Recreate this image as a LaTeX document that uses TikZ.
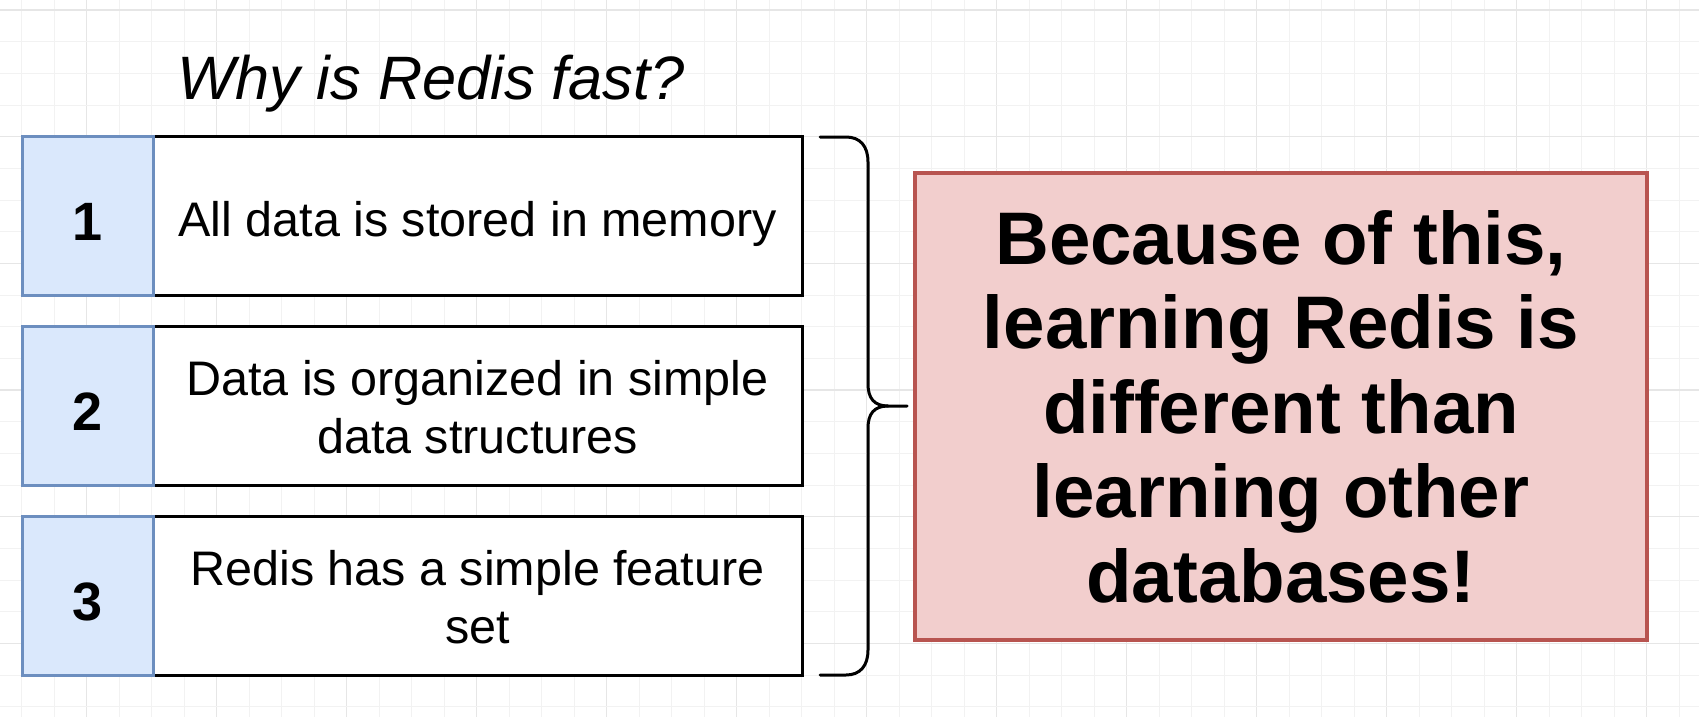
\documentclass[tikz,border=0pt]{standalone}
\usepackage{fontspec}
\setmainfont{Liberation Sans}
\definecolor{gridminor}{HTML}{F2F2F2}
\definecolor{gridmajor}{HTML}{E6E6E6}
\definecolor{bluefill}{HTML}{DAE8FC}
\definecolor{blueline}{HTML}{6C8EBF}
\definecolor{redfill}{HTML}{F2CECD}
\definecolor{redline}{HTML}{B85450}
\tikzset{
  textbox/.style={draw=black, fill=white, line width=3pt, inner sep=0pt, outer sep=0pt,
    minimum width=649pt, minimum height=158.3pt},
  numbox/.style={draw=blueline, fill=bluefill, line width=3pt, inner sep=0pt, outer sep=0pt,
    minimum width=130.5pt, minimum height=158.3pt},
  boxtext/.style={anchor=base, inner sep=0pt, font=\fontsize{48.5}{58}\selectfont},
  numtext/.style={anchor=base, inner sep=0pt, font=\fontsize{54}{60}\selectfont\bfseries},
  bigbox/.style={draw=redline, fill=redfill, line width=3.5pt, inner sep=0pt, outer sep=0pt,
    minimum width=732pt, minimum height=467pt, align=center,
    font=\fontsize{74.5}{84.5}\selectfont\bfseries},
  bracestyle/.style={draw=black, line width=3pt, line cap=round, line join=round}
}
\begin{document}
\begin{tikzpicture}[x=1pt,y=-1pt]
\useasboundingbox (0,0) rectangle (1699,717);
\fill[white] (0,0) rectangle (1699,717);
% grid
\foreach \k in {0,...,51}{
  \pgfmathtruncatemacro{\m}{mod(\k,4)}
  \ifnum\m=2
    \draw[gridmajor, line width=1.2pt] ({21.7+32.5*\k},0) -- ({21.7+32.5*\k},717);
  \else
    \draw[gridminor, line width=1pt] ({21.7+32.5*\k},0) -- ({21.7+32.5*\k},717);
  \fi
}
\foreach \k in {0,...,22}{
  \pgfmathtruncatemacro{\m}{mod(\k,4)}
  \ifnum\m=0
    \draw[gridmajor, line width=1.2pt] (0,{10+31.67*\k}) -- (1699,{10+31.67*\k});
  \else
    \draw[gridminor, line width=1pt] (0,{10+31.67*\k}) -- (1699,{10+31.67*\k});
  \fi
}
% title
\node[anchor=base west, inner sep=0pt, font=\fontsize{61.3}{72}\selectfont\itshape] (title) at (177,99) {Why is Redis fast?};
% text boxes
\node[textbox] (t1) at (477.5,215.85) {};
\node[textbox] (t2) at (477.5,405.85) {};
\node[textbox] (t3) at (477.5,595.85) {};
\node[boxtext] (t1a) at ([yshift=-21pt]t1.center) {All data is stored in memory};
\node[boxtext] (t2a) at ([yshift=10pt]t2.center) {Data is organized in simple};
\node[boxtext] (t2b) at ([yshift=-48pt]t2.center) {data structures};
\node[boxtext] (t3a) at ([yshift=10pt]t3.center) {Redis has a simple feature};
\node[boxtext] (t3b) at ([yshift=-48pt]t3.center) {set};
% number boxes
\node[numbox] (n1) at (87.75,215.85) {};
\node[numbox] (n2) at (87.75,405.85) {};
\node[numbox] (n3) at (87.75,595.85) {};
\node[numtext] (n1t) at ([yshift=-24.5pt]n1.center) {1};
\node[numtext] (n2t) at ([yshift=-24.5pt]n2.center) {2};
\node[numtext] (n3t) at ([yshift=-24.5pt]n3.center) {3};
% red box
\node[bigbox] (big) at (1281,406.5) {Because of this,\\learning Redis is\\different than\\learning other\\databases!};
% brace
\coordinate (btop) at (820,137);
\coordinate (bbot) at (820,675);
\coordinate (btip) at (907,406);
\draw[bracestyle] (btop) -- (846,137) .. controls (860,137) and (868,146) .. (868,162)
  -- (868,384) .. controls (868,398) and (874,406) .. (888,406) -- (btip);
\draw[bracestyle] (888,406) .. controls (874,406) and (868,414) .. (868,428)
  -- (868,650) .. controls (868,666) and (860,675) .. (846,675) -- (bbot);
\end{tikzpicture}
\end{document}
